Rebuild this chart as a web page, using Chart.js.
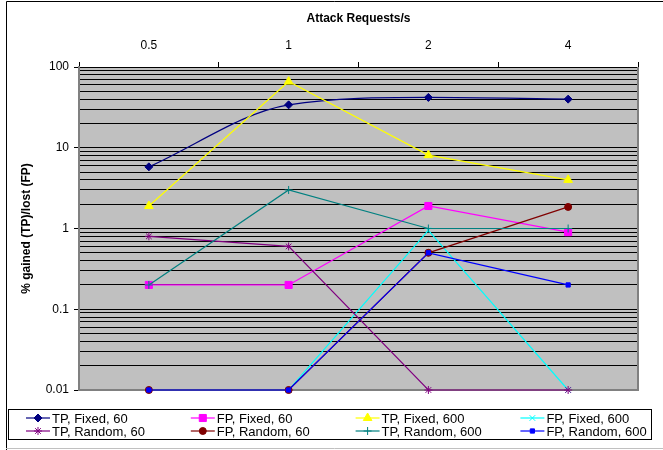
<!DOCTYPE html>
<html lang="en">
<head>
    <meta charset="utf-8">
    <title>Attack Requests/s</title>
    <script src="https://cdn.jsdelivr.net/npm/chart.js@4.4.1/dist/chart.umd.min.js"></script>
    <style>
        body {
            margin: 0;
            background: #fff;
        }
        #chart {
            display: block;
        }
    </style>
</head>
<body>
    <canvas id="chart" width="663" height="450"></canvas>
    <script>
        const categories = ['0.5', '1', '2', '4'];
        const seriesNames = [
            'TP, Fixed, 60', 'FP, Fixed, 60', 'TP, Fixed, 600', 'FP, Fixed, 600',
            'TP, Random, 60', 'FP, Random, 60', 'TP, Random, 600', 'FP, Random, 600'
        ];
        const tpFixed60 = [5.8, 34, 42, 40];
        const fpFixed60 = [0.2, 0.2, 1.9, 0.9];
        const tpFixed600 = [1.9, 66, 8.1, 4];
        const fpFixed600 = [0.01, 0.01, 0.95, 0.01];
        const tpRandom60 = [0.8, 0.6, 0.01, 0.01];
        const fpRandom60 = [0.01, 0.01, 0.5, 1.85];
        const tpRandom600 = [0.2, 3, 1, 1];
        const fpRandom600 = [0.01, 0.01, 0.5, 0.2];
        const yTicks = [0.01, 0.1, 1, 10, 100];

        const FONT = "'Liberation Sans', Arial, sans-serif";

        // minor gridlines 1..9 per decade
        const gridValues = [];
        yTicks.forEach((v, i) => {
            if (i === yTicks.length - 1) { gridValues.push(v); return; }
            for (let m = 1; m < 10; m++) gridValues.push(+(v * m).toPrecision(3));
        });
        const isMajor = v => yTicks.some(t => Math.abs(t - v) < t * 1e-6);

        const styles = [
            { color: '#000080', point: 'rectRot', r: 4, smooth: true },
            { color: '#FF00FF', point: 'rect', r: 5 },
            { color: '#FFFF00', point: 'triangle', r: 5 },
            { color: '#00FFFF', point: 'crossRot', r: 4 },
            { color: '#800080', point: 'star', r: 4 },
            { color: '#800000', point: 'circle', r: 3.5 },
            { color: '#008080', point: 'cross', r: 4 },
            { color: '#0000FF', point: 'rect', r: 3 }
        ];
        const seriesData = [tpFixed60, fpFixed60, tpFixed600, fpFixed600,
            tpRandom60, fpRandom60, tpRandom600, fpRandom600];

        const datasets = seriesData.map((d, i) => ({
            label: seriesNames[i],
            data: d,
            borderColor: styles[i].color,
            backgroundColor: styles[i].color,
            pointBackgroundColor: styles[i].color,
            pointBorderColor: styles[i].color,
            pointStyle: styles[i].point,
            pointRadius: styles[i].r,
            pointBorderWidth: 1,
            borderWidth: 1.2,
            cubicInterpolationMode: styles[i].smooth ? 'monotone' : 'default',
            tension: styles[i].smooth ? 0.4 : 0,
            clip: false,
            order: seriesData.length - i
        }));

        const framePlugin = {
            id: 'frame',
            beforeDraw(chart) {
                const { ctx, chartArea: a } = chart;
                ctx.save();
                ctx.fillStyle = '#C0C0C0';
                ctx.fillRect(a.left, a.top, a.right - a.left, a.bottom - a.top);
                ctx.restore();
            },
            beforeDatasetsDraw(chart) {
                const { ctx, chartArea: a } = chart;
                ctx.save();
                ctx.strokeStyle = '#808080';
                ctx.lineWidth = 2;
                ctx.beginPath();
                ctx.moveTo(a.right, a.top);
                ctx.lineTo(a.right, a.bottom);
                ctx.lineTo(a.left, a.bottom);
                ctx.stroke();
                ctx.restore();
            },
            afterDraw(chart) {
                const { ctx, chartArea: a } = chart;
                ctx.save();
                // outer frame
                ctx.strokeStyle = '#000';
                ctx.lineWidth = 1;
                ctx.beginPath();
                ctx.moveTo(6.5, 450);
                ctx.lineTo(6.5, 1.5);
                ctx.lineTo(663, 1.5);
                ctx.stroke();
                ctx.strokeStyle = '#C0C0C0';
                ctx.beginPath();
                ctx.moveTo(6, 448.5);
                ctx.lineTo(663, 448.5);
                ctx.stroke();

                // axis titles
                ctx.fillStyle = '#000';
                ctx.font = 'bold 12px ' + FONT;
                ctx.textAlign = 'center';
                ctx.textBaseline = 'middle';
                ctx.fillText('Attack Requests/s', (a.left + a.right) / 2, 19);
                ctx.translate(27, (a.top + a.bottom) / 2);
                ctx.rotate(-Math.PI / 2);
                ctx.fillText('% gained (TP)/lost (FP)', 0, 0);
                ctx.setTransform(1, 0, 0, 1, 0, 0);

                // legend
                ctx.strokeStyle = '#000';
                ctx.lineWidth = 1;
                ctx.strokeRect(8.5, 409.5, 643, 30);
                ctx.font = '13px ' + FONT;
                ctx.textAlign = 'left';
                chart.data.datasets.forEach((ds, i) => {
                    const x = 26 + (i % 4) * 164.8;
                    const y = 418 + Math.floor(i / 4) * 13;
                    ctx.strokeStyle = ds.borderColor;
                    ctx.fillStyle = ds.backgroundColor;
                    ctx.lineWidth = 1.2;
                    ctx.beginPath();
                    ctx.moveTo(x, y);
                    ctx.lineTo(x + 24, y);
                    ctx.stroke();
                    ctx.lineWidth = 1;
                    Chart.helpers.drawPoint(ctx, {
                        pointStyle: ds.pointStyle,
                        radius: ds.pointRadius,
                        rotation: 0,
                        borderWidth: 1
                    }, x + 12, y);
                    ctx.fillStyle = '#000';
                    ctx.fillText(ds.label, x + 26, y + 1);
                });
                ctx.restore();
            }
        };

        new Chart(document.getElementById('chart'), {
            type: 'line',
            data: { labels: categories, datasets: datasets },
            options: {
                responsive: false,
                animation: false,
                events: [],
                layout: { padding: { left: 0, right: 25, top: 0, bottom: 60 } },
                plugins: {
                    legend: { display: false },
                    tooltip: { enabled: false }
                },
                scales: {
                    x: {
                        position: 'top',
                        offset: true,
                        grid: {
                            offset: true,
                            drawOnChartArea: false,
                            tickLength: 5,
                            color: '#000'
                        },
                        border: { color: '#000', width: 1 },
                        ticks: {
                            color: '#000',
                            font: { family: FONT, size: 12 },
                            padding: 9,
                            maxRotation: 0
                        },
                        afterFit: s => { s.height = 67; }
                    },
                    y: {
                        type: 'logarithmic',
                        min: 0.01,
                        max: 100,
                        afterBuildTicks: s => { s.ticks = gridValues.map(v => ({ value: v })); },
                        grid: {
                            color: '#000',
                            lineWidth: 1,
                            tickLength: 5,
                            tickColor: c => (c.tick && isMajor(c.tick.value)) ? '#000' : 'rgba(0,0,0,0)'
                        },
                        border: { color: '#808080', width: 2 },
                        ticks: {
                            autoSkip: false,
                            color: '#000',
                            font: { family: FONT, size: 12 },
                            padding: 5,
                            callback: v => isMajor(v) ? String(v) : ''
                        },
                        afterFit: s => { s.width = 79; }
                    }
                }
            },
            plugins: [framePlugin]
        });
    </script>
</body>
</html>
